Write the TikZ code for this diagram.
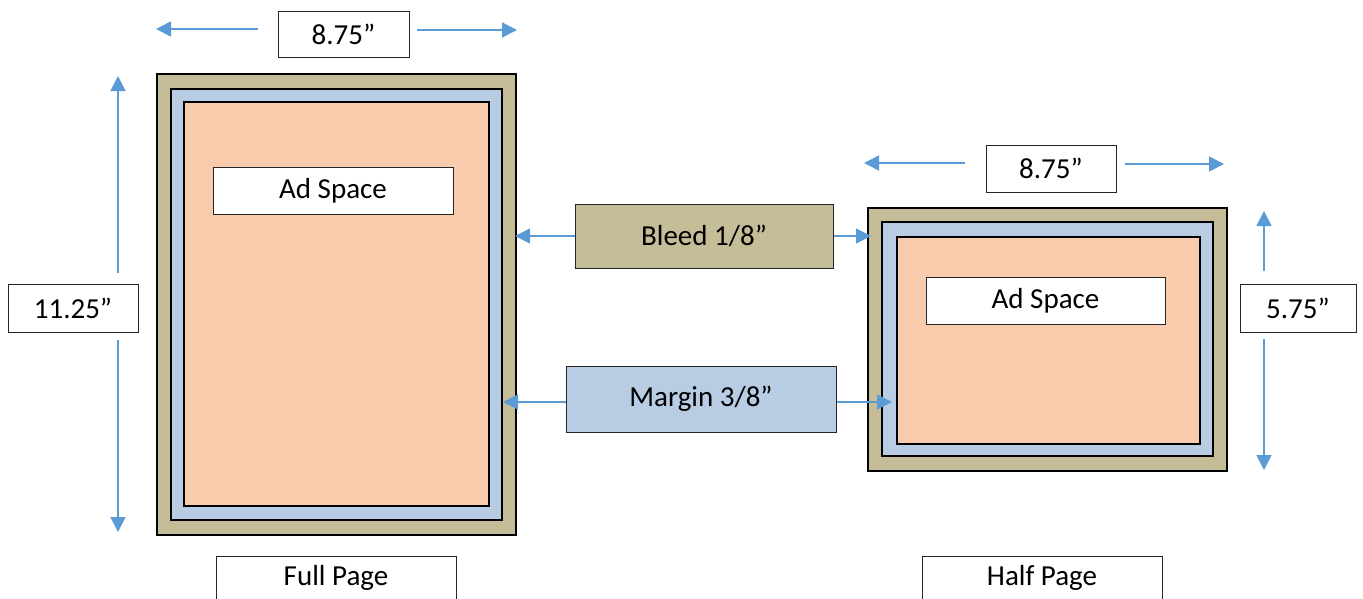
\documentclass[tikz,border=0pt]{standalone}
\usepackage{fontspec}
\setmainfont{Carlito}
\usetikzlibrary{arrows.meta}
\definecolor{bleedc}{HTML}{C4BD97}
\definecolor{marginc}{HTML}{B8CCE4}
\definecolor{adc}{HTML}{F8CBAD}
\definecolor{arrowc}{HTML}{5B9BD5}
\tikzset{
  frame/.style={draw=black, line width=2pt, inner sep=0pt, anchor=north west},
  lbl/.style={draw=black!85, line width=1pt, fill=white, inner sep=0pt, font=\fontsize{29}{34}\selectfont},
  dimarrow/.style={draw=arrowc, line width=1.6pt, -{Triangle[length=15pt,width=15pt]}},
}
\begin{document}
\begin{tikzpicture}[x=1pt,y=-1pt]
\useasboundingbox (0,0) rectangle (1363,598);
% Full page frames
\node[frame, fill=bleedc, minimum width=359pt, minimum height=461pt] (fullouter) at (156,73) {};
\node[frame, fill=marginc, minimum width=331pt, minimum height=431pt] (fullblue) at (170,88) {};
\node[frame, fill=adc, minimum width=305pt, minimum height=404pt] (fullorange) at (183,101) {};
\node[lbl, minimum width=240pt, minimum height=47pt] (fullad) at (333,190.5) {Ad Space};
% Half page frames
\node[frame, fill=bleedc, minimum width=359pt, minimum height=263pt] (halfouter) at (867,207) {};
\node[frame, fill=marginc, minimum width=331pt, minimum height=234pt] (halfblue) at (881,221) {};
\node[frame, fill=adc, minimum width=303pt, minimum height=207pt] (halforange) at (896,236) {};
\node[lbl, minimum width=239pt, minimum height=47pt] (halfad) at (1045.5,300.5) {Ad Space};
% Labels
\node[lbl, minimum width=131pt, minimum height=46pt] (topw1) at (343.5,34) {8.75”};
\node[lbl, minimum width=130pt, minimum height=48pt] (lefth) at (73,308) {11.25”};
\node[lbl, fill=bleedc, minimum width=258pt, minimum height=64pt] (bleed) at (704,236) {Bleed 1/8”};
\node[lbl, fill=marginc, minimum width=270pt, minimum height=66pt] (margin) at (701,399) {Margin 3/8”};
\node[lbl, minimum width=130pt, minimum height=47pt] (topw2) at (1051,168.5) {8.75”};
\node[lbl, minimum width=116pt, minimum height=48pt] (righth) at (1298,308) {5.75”};
\node[lbl, minimum width=240pt, minimum height=44pt] (fullname) at (336,578) {Full Page};
\node[lbl, minimum width=240pt, minimum height=44pt] (halfname) at (1042,578) {Half Page};
% Dimension arrow coordinates
\coordinate (a1s) at (258,29);  \coordinate (a1e) at (156,29);
\coordinate (a2s) at (417,30);  \coordinate (a2e) at (517,30);
\coordinate (v1s) at (118,273); \coordinate (v1e) at (118,76);
\coordinate (v2s) at (118,340); \coordinate (v2e) at (118,532);
\coordinate (b3s) at (965,163); \coordinate (b3e) at (864,163);
\coordinate (b4s) at (1125,164); \coordinate (b4e) at (1224,164);
\coordinate (v3s) at (1264,271); \coordinate (v3e) at (1264,211);
\coordinate (v4s) at (1264,339); \coordinate (v4e) at (1264,470);
\coordinate (bl) at (515,236); \coordinate (br) at (871,236);
\coordinate (ml) at (503,402); \coordinate (mr) at (892,402);
% Arrows
\draw[dimarrow] (a1s) -- (a1e);
\draw[dimarrow] (a2s) -- (a2e);
\draw[dimarrow] (v1s) -- (v1e);
\draw[dimarrow] (v2s) -- (v2e);
\draw[dimarrow] (b3s) -- (b3e);
\draw[dimarrow] (b4s) -- (b4e);
\draw[dimarrow] (v3s) -- (v3e);
\draw[dimarrow] (v4s) -- (v4e);
\draw[dimarrow] (bleed.west) -- (bl);
\draw[dimarrow] (bleed.east) -- (br);
\draw[dimarrow] (margin.west |- ml) -- (ml);
\draw[dimarrow] (margin.east |- mr) -- (mr);
\end{tikzpicture}
\end{document}
